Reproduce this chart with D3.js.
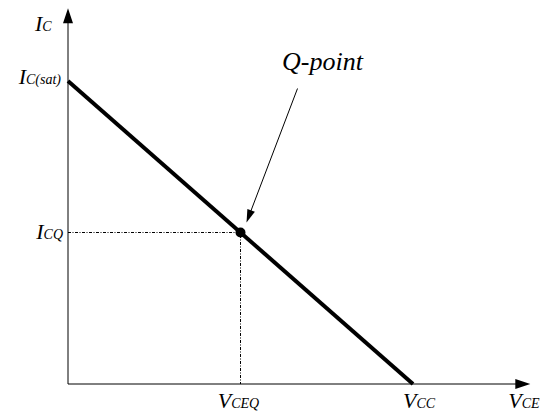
<!DOCTYPE html>
<html lang="en">
<head>
    <meta charset="UTF-8">
    <title>DC load line</title>
    <style>
        body{ margin:0; background:#fff; }
        .axis-line{ stroke:#000; stroke-width:1; fill:none; }
        .load-line{ stroke:#000; stroke-width:4; fill:none; }
        .guide{ stroke:#000; stroke-width:1; stroke-dasharray:3,1.5,1,1.5; fill:none; }
    </style>
</head>
<body>
    <svg width="544" height="416"></svg>
    <script src="https://d3js.org/d3.v7.min.js"></script>
    <script>
        // normalised values: Vcc = 1, Ic(sat) = 1
        var loadLine = [{vce: 0, ic: 1}, {vce: 1, ic: 0}];
        var qPoint = {vce: 0.5, ic: 0.5};
        var axisMax = {vce: 1.34, ic: 1.24};

        var svg = d3.select("svg"),
            margin = {left: 68, bottom: 32},
            height = +svg.attr("height");

        var x = d3.scaleLinear().domain([0, 1]).range([margin.left, 413]);
        var y = d3.scaleLinear().domain([0, 1]).range([height - margin.bottom, 81]);

        // axes with arrow heads
        svg.append("line").attr("class", "axis-line")
            .attr("x1", x(0)).attr("y1", y(0)).attr("x2", x(0)).attr("y2", y(axisMax.ic) + 10);
        svg.append("line").attr("class", "axis-line")
            .attr("x1", x(0)).attr("y1", y(0)).attr("x2", x(axisMax.vce) - 10).attr("y2", y(0));

        svg.append("path")
            .attr("d", "M" + x(0) + "," + y(axisMax.ic) + "l-5,15l10,0z");
        svg.append("path")
            .attr("d", "M" + x(axisMax.vce) + "," + y(0) + "l-15,-5l0,10z");

        // dotted guides to Q-point
        svg.append("path").attr("class", "guide")
            .attr("d", "M" + x(0) + "," + y(qPoint.ic) + "H" + x(qPoint.vce) + "V" + y(0));

        // load line
        var line = d3.line().x(function(d){ return x(d.vce); }).y(function(d){ return y(d.ic); });
        svg.append("path").datum(loadLine).attr("class", "load-line").attr("d", line);

        svg.append("circle")
            .attr("cx", x(qPoint.vce)).attr("cy", y(qPoint.ic)).attr("r", 5);

        // annotation arrow
        var ax1 = x(qPoint.vce) + 57, ay1 = y(qPoint.ic) - 144,
            ax2 = x(qPoint.vce) + 6, ay2 = y(qPoint.ic) - 10;
        var ang = Math.atan2(ay2 - ay1, ax2 - ax1);
        svg.append("line").attr("x1", ax1).attr("y1", ay1)
            .attr("x2", ax2 - 10 * Math.cos(ang)).attr("y2", ay2 - 10 * Math.sin(ang))
            .attr("stroke", "#000").attr("stroke-width", 1);
        svg.append("path")
            .attr("transform", "translate(" + ax2 + "," + ay2 + ") rotate(" + (ang * 180 / Math.PI) + ")")
            .attr("d", "M0,0L-13,-4L-13,4Z");

        svg.append("text")
            .attr("font-family", "Liberation Serif").attr("font-style", "italic")
            .attr("x", 282).attr("y", 70).attr("font-size", 26).text("Q-point");

        // labels: main letter + small-caps subscript
        function label(px, py, main, sub, anchor){
            var t = svg.append("text")
                .attr("font-family", "Liberation Serif").attr("font-style", "italic")
                .attr("x", px).attr("y", py).attr("text-anchor", anchor || "start");
            t.append("tspan").attr("font-size", 22).text(main);
            t.append("tspan").attr("font-size", 14).text(sub);
        }

        label(x(0) - 33, 31, "I", "C");
        label(x(0) - 7, y(1) + 3, "I", "C(sat)", "end");
        label(x(0) - 5, y(qPoint.ic) + 6, "I", "CQ", "end");
        label(x(qPoint.vce) - 2, height - 8, "V", "CEQ", "middle");
        label(x(1) + 6, height - 8, "V", "CC", "middle");
        label(x(axisMax.vce) - 22, height - 8, "V", "CE");
    </script>
</body>
</html>
